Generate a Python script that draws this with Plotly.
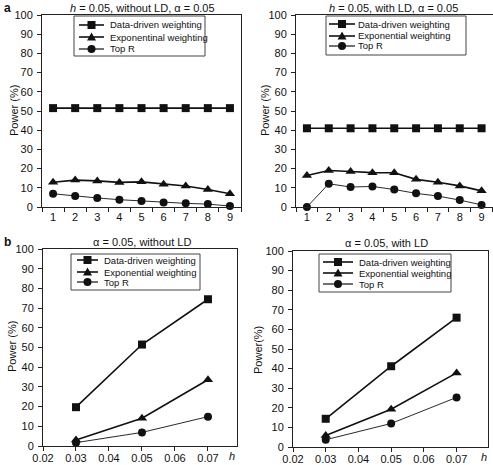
import plotly.graph_objects as go

W, H = 493, 465

# ---------------- data ----------------
top_x = ["1", "2", "3", "4", "5", "6", "7", "8", "9"]

a1_dd = [51.5, 51.5, 51.5, 51.5, 51.5, 51.5, 51.5, 51.5, 51.5]
a1_exp = [12.9, 14.0, 13.6, 12.8, 13.1, 11.9, 10.9, 9.1, 6.9]
a1_top = [6.9, 5.7, 4.7, 3.8, 3.1, 2.4, 1.9, 1.5, 0.5]

a2_dd = [41.0, 41.0, 41.0, 41.0, 41.0, 41.0, 41.0, 41.0, 41.0]
a2_exp = [16.4, 19.0, 18.5, 17.9, 17.8, 14.4, 12.9, 11.0, 8.4]
a2_top = [0.0, 12.1, 10.4, 10.7, 9.1, 7.1, 5.7, 3.6, 1.1]

h_vals = [0.03, 0.05, 0.07]
b1_dd = [19.7, 51.5, 74.5]
b1_exp = [3.0, 14.1, 33.6]
b1_top = [1.7, 6.9, 14.9]

b2_dd = [14.4, 41.2, 66.0]
b2_exp = [5.9, 19.3, 37.8]
b2_top = [3.7, 12.0, 25.3]

h_ticks = [0.02, 0.03, 0.04, 0.05, 0.06, 0.07]
y_ticks = [0, 10, 20, 30, 40, 50, 60, 70, 80, 90, 100]

labels_a1 = ["Data-driven weighting", "Exponentinal weighting", "Top R"]
labels_other = ["Data-driven weighting", "Exponential weighting", "Top R"]

titles = ["<i>h</i> = 0.05, without LD, α = 0.05",
          "<i>h</i> = 0.05, with LD, α = 0.05",
          "α = 0.05, without LD",
          "α = 0.05, with LD"]

# ---------------- helpers ----------------
def px(x):
    return x / W

def py(y):
    return 1 - y / H

FONT = "Arial, Liberation Sans, sans-serif"
INK = "#111111"

fig = go.Figure()

styles = [
    dict(symbol="square", size=8, lw=1.6),
    dict(symbol="triangle-up", size=9, lw=1.6),
    dict(symbol="circle", size=8, lw=0.9),
]

panels = [
    ("x", "y", top_x, [a1_dd, a1_exp, a1_top]),
    ("x2", "y2", top_x, [a2_dd, a2_exp, a2_top]),
    ("x3", "y3", h_vals, [b1_dd, b1_exp, b1_top]),
    ("x4", "y4", h_vals, [b2_dd, b2_exp, b2_top]),
]

for xa, ya, xs, series in panels:
    for s, st in zip(series, styles):
        fig.add_trace(go.Scatter(
            x=xs, y=s, xaxis=xa, yaxis=ya, mode="lines+markers",
            line=dict(color=INK, width=st["lw"]),
            marker=dict(symbol=st["symbol"], size=st["size"], color=INK,
                        line=dict(width=0)),
            showlegend=False, cliponaxis=False, hoverinfo="skip",
        ))

# domains in pixel units
dom = {
    "a1": dict(x=(42, 241), y=(15, 207)),
    "a2": dict(x=(296, 492.5), y=(15, 207)),
    "b1": dict(x=(43, 237), y=(249, 446)),
    "b2": dict(x=(293, 488), y=(251, 447)),
}

def xd(k):
    a, b = dom[k]["x"]
    return [px(a), px(b)]

def yd(k):
    a, b = dom[k]["y"]
    return [py(b), py(a)]

axis_common = dict(showline=True, linecolor="#222222", linewidth=1, mirror=True,
                   ticks="outside", ticklen=4, tickcolor="#222222", tickwidth=1,
                   showgrid=False, zeroline=False, automargin=False,
                   tickfont=dict(family=FONT, size=11, color=INK))

yax = dict(axis_common, range=[0, 100], tickvals=y_ticks, ticklabelstandoff=2)
xb = dict(axis_common, tickvals=h_ticks, ticktext=[f"{v:.2f}" for v in h_ticks],
          ticklabelstandoff=-2)

fig.update_layout(
    width=W, height=H, margin=dict(l=0, r=0, t=0, b=0),
    paper_bgcolor="white", plot_bgcolor="white",
    font=dict(family=FONT, color=INK),
    xaxis=dict(axis_common, domain=xd("a1"), type="category", tickson="boundaries",
               range=[-0.5, 8.5], anchor="y"),
    yaxis=dict(yax, domain=yd("a1"), anchor="x"),
    xaxis2=dict(axis_common, domain=xd("a2"), type="category", tickson="boundaries",
                range=[-0.5, 8.5], anchor="y2"),
    yaxis2=dict(yax, domain=yd("a2"), anchor="x2"),
    xaxis3=dict(xb, domain=xd("b1"), range=[0.02, 0.0788], anchor="y3"),
    yaxis3=dict(yax, domain=yd("b1"), anchor="x3"),
    xaxis4=dict(xb, domain=xd("b2"), range=[0.02, 0.0796], anchor="y4"),
    yaxis4=dict(yax, domain=yd("b2"), anchor="x4"),
)

annotations = []
shapes = []

def ann(x, y, text, size=11, angle=0, xanchor="center", bold=False):
    if bold:
        text = f"<b>{text}</b>"
    annotations.append(dict(x=px(x), y=py(y), xref="paper", yref="paper", text=text,
                            showarrow=False, textangle=angle, xanchor=xanchor,
                            yanchor="middle",
                            font=dict(family=FONT, size=size, color=INK)))

# titles
ann(142, 8, titles[0], size=11)
ann(393, 8, titles[1], size=11)
ann(142, 242, titles[2], size=11)
ann(386, 243, titles[3], size=11)

# panel letters
ann(7, 8, "a", size=12, bold=True)
ann(7, 242, "b", size=12, bold=True)

# y titles
ann(14, 111, "Power (%)", size=11, angle=-90)
ann(265, 111, "Power (%)", size=11, angle=-90)
ann(12, 347, "Power (%)", size=11, angle=-90)
ann(258, 350, "Power(%)", size=11, angle=-90)

# h labels
ann(232, 456, "<i>h</i>", size=11)
ann(484, 457, "<i>h</i>", size=11)

# legends
def legend(box, rows, line_x, text_x, labels):
    x0, y0, x1, y1 = box
    shapes.append(dict(type="rect", xref="paper", yref="paper",
                       x0=px(x0), x1=px(x1), y0=py(y1), y1=py(y0),
                       line=dict(color="#444444", width=1), fillcolor="white"))
    la, lb = line_x
    cx = (la + lb) / 2
    for i, (yy, lab, st) in enumerate(zip(rows, labels, styles)):
        shapes.append(dict(type="line", xref="paper", yref="paper",
                           x0=px(la), x1=px(lb), y0=py(yy), y1=py(yy),
                           line=dict(color=INK, width=st["lw"] if i < 2 else 1.2)))
        if i == 0:
            r = 4
            shapes.append(dict(type="rect", xref="paper", yref="paper",
                               x0=px(cx - r), x1=px(cx + r), y0=py(yy + r), y1=py(yy - r),
                               line=dict(width=0), fillcolor=INK))
        elif i == 1:
            path = (f"M {px(cx - 4.5)},{py(yy + 3.5)} L {px(cx + 4.5)},{py(yy + 3.5)} "
                    f"L {px(cx)},{py(yy - 4.5)} Z")
            shapes.append(dict(type="path", xref="paper", yref="paper", path=path,
                               line=dict(width=0), fillcolor=INK))
        else:
            r = 4
            shapes.append(dict(type="circle", xref="paper", yref="paper",
                               x0=px(cx - r), x1=px(cx + r), y0=py(yy + r), y1=py(yy - r),
                               line=dict(width=0), fillcolor=INK))
        ann(text_x, yy, lab, size=9.5, xanchor="left")

legend((74, 16, 205, 56), [25, 37, 49], (79, 104), 108, labels_a1)
legend((326, 16, 466, 55), [24, 36, 46], (329, 355), 356, labels_other)
legend((71, 254, 200, 290), [260, 272, 282], (77, 98), 102, labels_other)
legend((319, 254, 451, 292), [262, 273, 284], (323, 353), 357, labels_other)

fig.update_layout(annotations=annotations, shapes=shapes)

fig.write_html("out.html",
               config={"displayModeBar": False, "staticPlot": True},
               post_script="document.body.style.margin='0px';"
                           "document.body.style.overflow='hidden';")
